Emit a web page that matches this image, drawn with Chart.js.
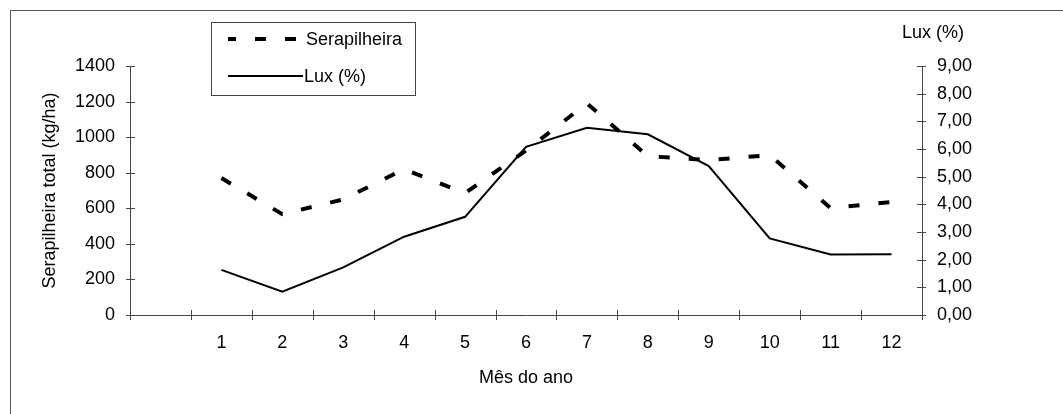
<!DOCTYPE html>
<html><head><meta charset="utf-8">
<script src="https://cdn.jsdelivr.net/npm/chart.js@4/dist/chart.umd.min.js"></script>
<style>html,body{margin:0;padding:0;background:#fff;overflow:hidden}canvas{display:block}</style>
</head><body>
<canvas id="c" width="1063" height="414"></canvas>
<script>
// ---- data ----
const categories = ['', '1', '2', '3', '4', '5', '6', '7', '8', '9', '10', '11', '12'];
const serapilheira = [770, 567, 650, 820, 685, 925, 1190, 893, 871, 899, 601, 635];
const lux = [1.63, 0.84, 1.72, 2.83, 3.55, 6.08, 6.77, 6.53, 5.38, 2.77, 2.19, 2.20];
const leftTicks = [0, 200, 400, 600, 800, 1000, 1200, 1400];
const rightTicks = [0, 1, 2, 3, 4, 5, 6, 7, 8, 9];
const seriesNames = ['Serapilheira', 'Lux (%)'];
const axisTitles = { x: 'Mês do ano', y: 'Serapilheira total (kg/ha)', y1: 'Lux (%)' };

const FONT = "'Liberation Sans', Arial, sans-serif";
const AXIS = '#444';

const crossTicks = {
  id: 'crossTicks',
  afterDraw(chart) {
    const ctx = chart.ctx;
    ctx.save();
    ctx.strokeStyle = AXIS; ctx.lineWidth = 1;
    const ys = chart.scales.y, y1 = chart.scales.y1, xs = chart.scales.x;
    ys.ticks.forEach((t, i) => {
      const p = Math.round(ys.getPixelForTick(i)) + 0.5;
      ctx.beginPath(); ctx.moveTo(ys.right - 4, p); ctx.lineTo(ys.right + 5, p); ctx.stroke();
    });
    y1.ticks.forEach((t, i) => {
      const p = Math.round(y1.getPixelForTick(i)) + 0.5;
      ctx.beginPath(); ctx.moveTo(y1.left - 5, p); ctx.lineTo(y1.left + 4, p); ctx.stroke();
    });
    const n = xs.ticks.length, w = (xs.right - xs.left) / n;
    for (let i = 0; i <= n; i++) {
      const x = Math.round(i < n ? xs.getPixelForTick(i) - w / 2 : xs.right) + 0.5;
      ctx.beginPath(); ctx.moveTo(x, xs.top - 5); ctx.lineTo(x, xs.top + 5); ctx.stroke();
    }
    // right axis title at top
    ctx.fillStyle = '#000';
    ctx.font = '18px ' + FONT;
    ctx.textAlign = 'center'; ctx.textBaseline = 'middle';
    ctx.fillText(axisTitles.y1, y1.left + 11, 33);
    // outer frame (top and left edges)
    ctx.strokeStyle = '#555';
    ctx.beginPath(); ctx.moveTo(10.5, 414); ctx.lineTo(10.5, 10.5); ctx.lineTo(1063, 10.5); ctx.stroke();
    // legend
    const bx = 211.5, by = 22.5, bw = 204, bh = 73;
    ctx.strokeStyle = '#444'; ctx.lineWidth = 1;
    ctx.strokeRect(bx, by, bw, bh);
    const rows = [39, 76];
    chart.data.datasets.forEach((ds, i) => {
      const yy = rows[i];
      ctx.save();
      ctx.strokeStyle = ds.borderColor; ctx.lineWidth = ds.borderWidth;
      ctx.setLineDash(ds.borderDash || []);
      ctx.lineDashOffset = i === 0 ? 3 : 0;
      ctx.beginPath(); ctx.moveTo(228, yy); ctx.lineTo(i === 0 ? 297 : 303, yy); ctx.stroke();
      ctx.restore();
      ctx.fillStyle = '#000'; ctx.textAlign = 'left'; ctx.textBaseline = 'middle';
      ctx.font = '18px ' + FONT;
      ctx.fillText(ds.label, i === 0 ? 306 : 304, yy + 1);
    });
    ctx.restore();
  }
};

new Chart(document.getElementById('c'), {
  type: 'line',
  data: {
    labels: categories,
    datasets: [
      { label: seriesNames[0], data: [null, ...serapilheira], yAxisID: 'y',
        borderColor: '#000', borderWidth: 4, borderDash: [11, 19], borderCapStyle: 'butt',
        pointRadius: 0, tension: 0, fill: false },
      { label: seriesNames[1], data: [null, ...lux], yAxisID: 'y1',
        borderColor: '#000', borderWidth: 2, pointRadius: 0, tension: 0, fill: false }
    ]
  },
  options: {
    responsive: false, animation: false, devicePixelRatio: 1,
    layout: { padding: { top: 66, left: 0, right: 0, bottom: 0 } },
    plugins: { legend: { display: false }, tooltip: { enabled: false } },
    scales: {
      x: {
        type: 'category', offset: true,
        grid: { display: false, drawTicks: false },
        border: { display: true, color: AXIS, width: 1 },
        ticks: { autoSkip: false, maxRotation: 0, padding: 17, color: '#000', font: { family: FONT, size: 18 } },
        title: { display: true, text: axisTitles.x, color: '#000', font: { family: FONT, size: 18 }, padding: { top: 0, bottom: 25 } },
        afterFit(s) { s.height = 99; }
      },
      y: {
        position: 'left', min: 0, max: 1400,
        afterBuildTicks(s) { s.ticks = leftTicks.map(v => ({ value: v })); },
        grid: { display: false, drawTicks: false },
        border: { display: true, color: AXIS, width: 1 },
        ticks: { padding: 15, color: '#000', font: { family: FONT, size: 18 }, callback: v => String(v) },
        title: { display: true, text: axisTitles.y, color: '#000', font: { family: FONT, size: 18 }, padding: { top: 39, bottom: 0 } },
        afterFit(s) { s.width = 130; }
      },
      y1: {
        position: 'right', min: 0, max: 9,
        afterBuildTicks(s) { s.ticks = rightTicks.map(v => ({ value: v })); },
        grid: { display: false, drawTicks: false },
        border: { display: true, color: AXIS, width: 1 },
        ticks: { padding: 15, color: '#000', font: { family: FONT, size: 18 }, callback: v => Number(v).toFixed(2).replace('.', ',') },
        afterFit(s) { s.width = 141; }
      }
    }
  },
  plugins: [crossTicks]
});
</script>
</body></html>
